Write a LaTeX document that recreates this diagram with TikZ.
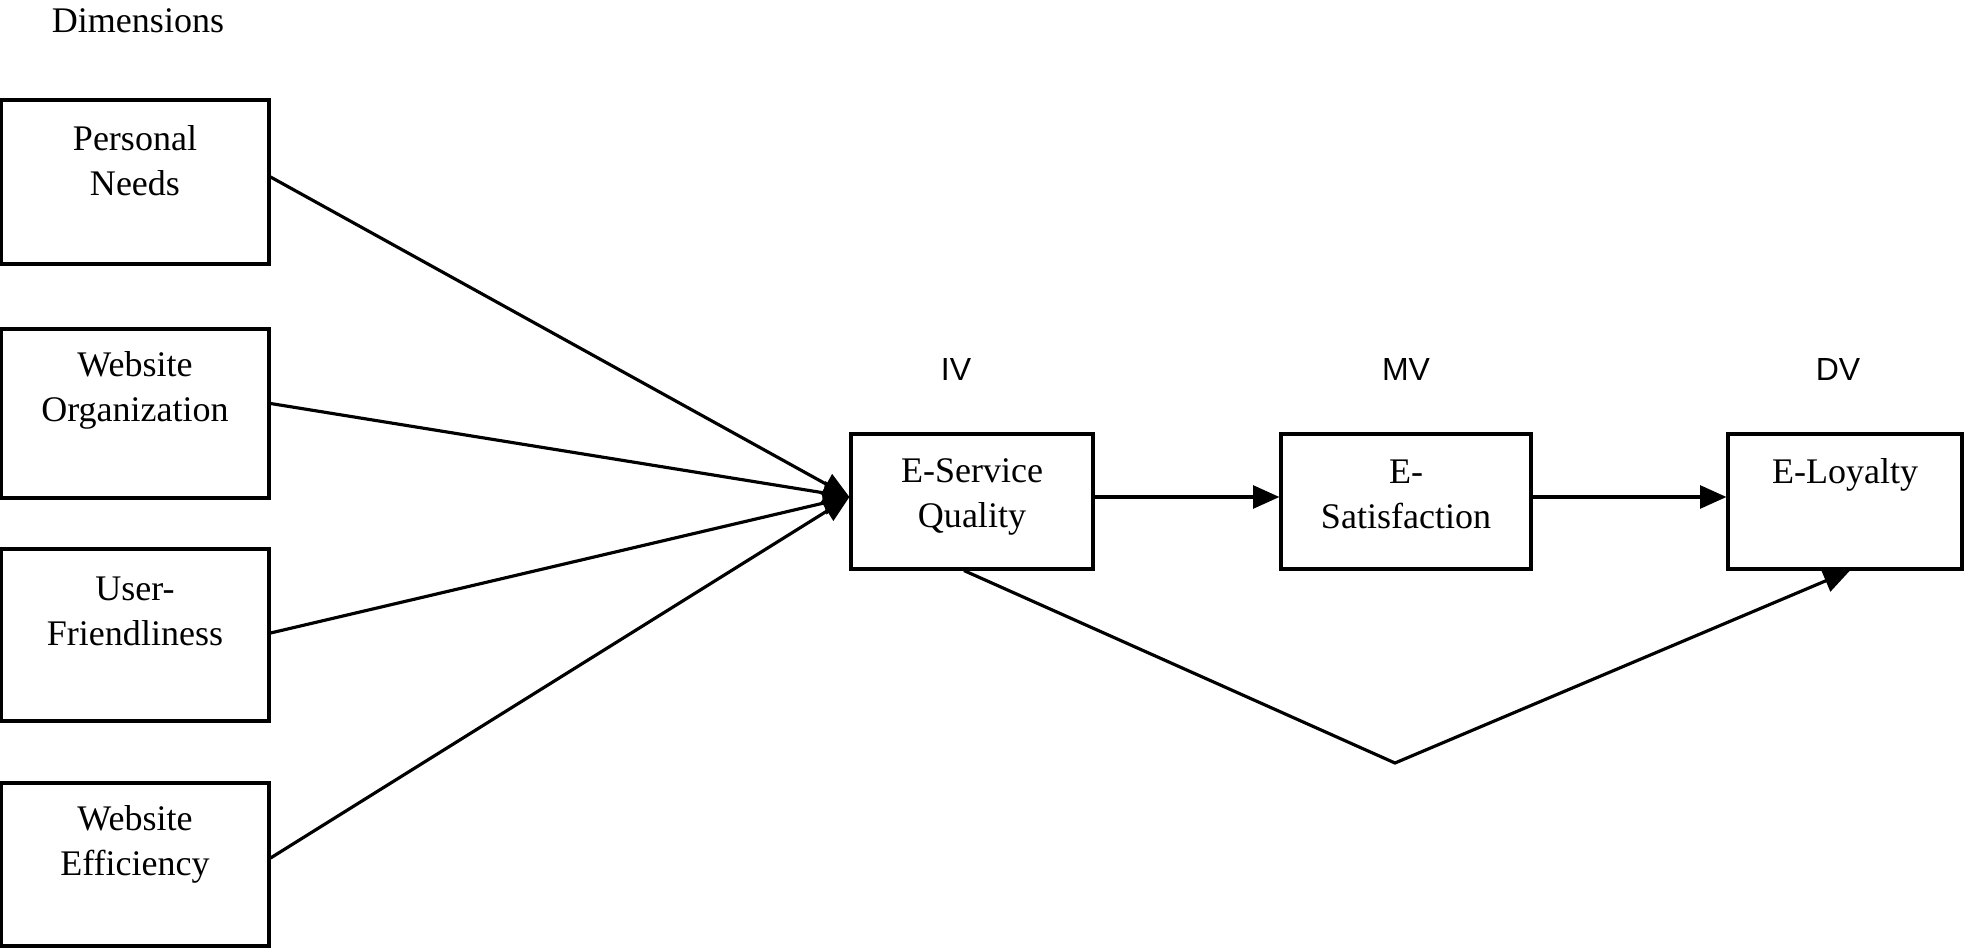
\documentclass[tikz,border=0pt]{standalone}
\usepackage{fontspec}
\setmainfont{Liberation Serif}
\newfontfamily\varfont{Liberation Sans}
\usetikzlibrary{arrows.meta}

\begin{document}
\begin{tikzpicture}[x=0.02cm, y=-0.02cm,
        font=\fontsize{20.5}{25.6}\selectfont,
        box/.style={draw, line width=1.8pt, inner sep=0pt},
        dimbox/.style={box, minimum width=5.36cm},
        txt/.style={align=center, inner sep=0pt},
        var/.style={font=\varfont\fontsize{18.2}{22}\selectfont, inner sep=0pt},
        link/.style={line width=1.8pt, -{Triangle[length=15pt, width=13pt]}}]
        \useasboundingbox (0,0) rectangle (1965,949);
        \node[txt] (dim) at (138,21) {Dimensions} ;
        \node[dimbox, minimum height=3.28cm] (pn) at (135,182) {} ;
        \node[dimbox, minimum height=3.38cm] (wo) at (135,413.5) {} ;
        \node[dimbox, minimum height=3.44cm] (uf) at (135,635) {} ;
        \node[dimbox, minimum height=3.26cm] (we) at (135,864.5) {} ;
        \node[txt] (pnt) at (135,160.5) {Personal\\Needs} ;
        \node[txt] (wot) at (135,390.5) {Website\\Organization} ;
        \node[txt] (uft) at (135,611) {User-\\Friendliness} ;
        \node[txt] (wet) at (135,844.5) {Website\\Efficiency} ;
        \node[box, minimum width=4.84cm, minimum height=2.7cm] (esq) at (972,501.5) {} ;
        \node[box, minimum width=5cm, minimum height=2.7cm] (es) at (1406,501.5) {} ;
        \node[box, minimum width=4.68cm, minimum height=2.7cm] (el) at (1845,501.5) {} ;
        \node[txt] (esqt) at (972,497) {E-Service\\Quality} ;
        \node[txt] (est) at (1406,494) {E-\\Satisfaction} ;
        \node[txt] (elt) at (1845,475) {E-Loyalty} ;
        \node[var] (iv) at (956,370) {IV} ;
        \node[var] (mv) at (1406,370) {MV} ;
        \node[var] (dv) at (1838,370) {DV} ;
        \coordinate (bend) at (1395,763) ;
        \draw[link] ([yshift=0.1cm]pn.east) -- ([yshift=0.09cm]esq.west) ;
        \draw[link] ([yshift=0.2cm]wo.east) -- ([yshift=0.09cm]esq.west) ;
        \draw[link] ([yshift=0.04cm]uf.east) -- ([yshift=0.09cm]esq.west) ;
        \draw[link] ([yshift=0.13cm]we.east) -- ([yshift=0.09cm]esq.west) ;
        \draw[link] ([yshift=0.09cm]esq.east) -- ([yshift=0.09cm]es.west) ;
        \draw[link] ([yshift=0.09cm]es.east) -- ([yshift=0.09cm]el.west) ;
        \draw[link] ([xshift=-0.16cm]esq.south) -- (bend) -- ([xshift=0.1cm]el.south) ;
    \end{tikzpicture}
\end{document}
